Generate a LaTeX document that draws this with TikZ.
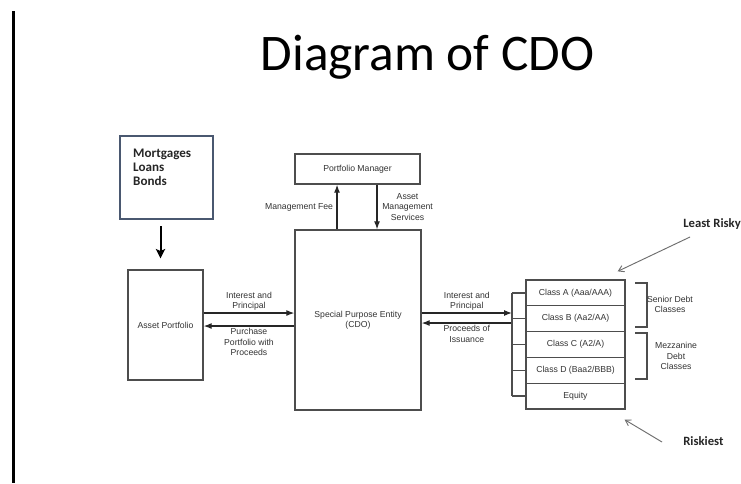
\documentclass[tikz,border=0pt]{standalone}
\usepackage{fontspec}
\setmainfont{Liberation Sans}
\newfontfamily\calibri{Carlito}
\usepackage{tikz}
\usetikzlibrary{arrows.meta, positioning, calc}
\usepackage{xcolor}

\definecolor{boxgrey}{HTML}{4D4D4D}
\definecolor{txtgrey}{HTML}{333333}
\definecolor{slate}{HTML}{4A5870}
\definecolor{pointgrey}{HTML}{6E6E6E}
\newcommand{\pxu}{0.75pt}

\tikzset{
  box/.style={draw=boxgrey, line width=1pt, text=txtgrey, font=\fontsize{6.5}{7.6}\selectfont, align=center, inner sep=0pt},
  lbl/.style={text=txtgrey, font=\fontsize{6.5}{7.6}\selectfont, align=center, inner sep=1.5pt},
  flow/.style={draw=black!85, line width=0.9pt, -{Latex[length=6pt,width=4.5pt]}},
  feed/.style={draw=black, line width=1.5pt, -{Stealth[length=7pt,width=7pt,inset=1.5pt]}},
  boldlbl/.style={font=\calibri\bfseries\fontsize{9.8}{10.6}\selectfont, text=black!85, inner sep=0pt},
  pointer/.style={draw=pointgrey, line width=0.7pt, -{Straight Barb[length=4pt,width=5pt]}},
  bracket/.style={draw=boxgrey, line width=1.1pt},
}

\begin{document}
\begin{tikzpicture}[x=0.75pt, y=-0.75pt]
  \useasboundingbox (0,0) rectangle (741,483);
  \fill[white] (0,0) rectangle (741,483);
  \draw[line width=2.3pt] (13.5,11) -- (13.5,483);

  % title
  \node[font=\calibri\fontsize{38.5}{40}\selectfont, anchor=base] (title) at (427.5,70) {Diagram of CDO};

  % boxes
  \node[box, draw=slate, line width=1.6pt, minimum width=93*\pxu, minimum height=83*\pxu] (src) at (166.5,177.5) {};
  \node[boldlbl, anchor=north west, align=left] (srctext) at ([xshift=14*\pxu, yshift=-14*\pxu]src.north west) {Mortgages\\Loans\\Bonds};
  \node[box, minimum width=75*\pxu, minimum height=110*\pxu] (asset) at (165.5,325) {Asset Portfolio};
  \node[box, minimum width=126*\pxu, minimum height=180*\pxu] (spe) at (358,320) {Special Purpose Entity\\(CDO)};
  \node[box, minimum width=125*\pxu, minimum height=30*\pxu] (pm) at (357.5,169) {Portfolio Manager};

  % tranches
  \foreach \name [count=\i] in {Class A (Aaa/AAA), Class B (Aa2/AA), Class C (A2/A), Class D (Baa2/BBB), Equity}
    \node[box, minimum width=99*\pxu, minimum height=25.8*\pxu] (t\i) at (575.5,{267.1+25.8*\i}) {\name};

  \coordinate (feeX) at (337,0);
  \coordinate (svcX) at (377,0);
  \coordinate (rowIn) at (0,313);
  \coordinate (rowOut) at (0,326);
  \coordinate (rowOut2) at (0,323);
  \coordinate (comb) at (512,0);

  % flows
  \draw[feed] ($(src.south)+(-6,6)$) -- ($(asset.north)+(-5,-11)$);
  \draw[flow] (feeX |- spe.north) -- (feeX |- pm.south)
    node[lbl, pos=0.5, left, xshift=-1pt] (fee) {Management Fee};
  \draw[flow] (svcX |- pm.south) -- (svcX |- spe.north)
    node[lbl, pos=0.5, right, xshift=2pt] (svc) {Asset\\Management\\Services};
  \draw[flow] (asset.east |- rowIn) -- (spe.west |- rowIn)
    node[lbl, midway, above] (inPrin) {Interest and\\Principal};
  \draw[flow] (spe.west |- rowOut) -- (asset.east |- rowOut)
    node[lbl, midway, below] (purchase) {Purchase\\Portfolio with\\Proceeds};
  \draw[flow] (spe.east |- rowIn) -- (comb |- rowIn)
    node[lbl, midway, above] (inPrin2) {Interest and\\Principal};
  \draw[flow] (comb |- rowOut2) -- (spe.east |- rowOut2)
    node[lbl, midway, below] (issue) {Proceeds of\\Issuance};

  % comb and brackets
  \draw[bracket] (comb |- t1) -- (comb |- t5);
  \foreach \i in {1,...,5}
    \draw[bracket] (comb |- t\i) -- (t\i.west);
  \draw[bracket] (635,283) -| (647,327) -- (635,327);
  \draw[bracket] (635,333) -| (647,379) -- (635,379);
  \node[lbl] (senior) at (670,304) {Senior Debt\\Classes};
  \node[lbl] (mezz) at (676,356) {Mezzanine\\Debt\\Classes};

  % risk pointers
  \node[boldlbl, font=\calibri\bfseries\fontsize{9.5}{10}\selectfont, anchor=west] (least) at (683,224) {Least Risky};
  \node[boldlbl, font=\calibri\bfseries\fontsize{9.5}{10}\selectfont, anchor=west] (riskiest) at (683,441) {Riskiest};
  \draw[pointer] ($(least.west)+(7,13)$) -- ($(t1.north east)+(-8,-8)$);
  \draw[pointer] ($(riskiest.west)+(-21,1)$) -- ($(t5.south east)+(-1,10)$);
\end{tikzpicture}
\end{document}
